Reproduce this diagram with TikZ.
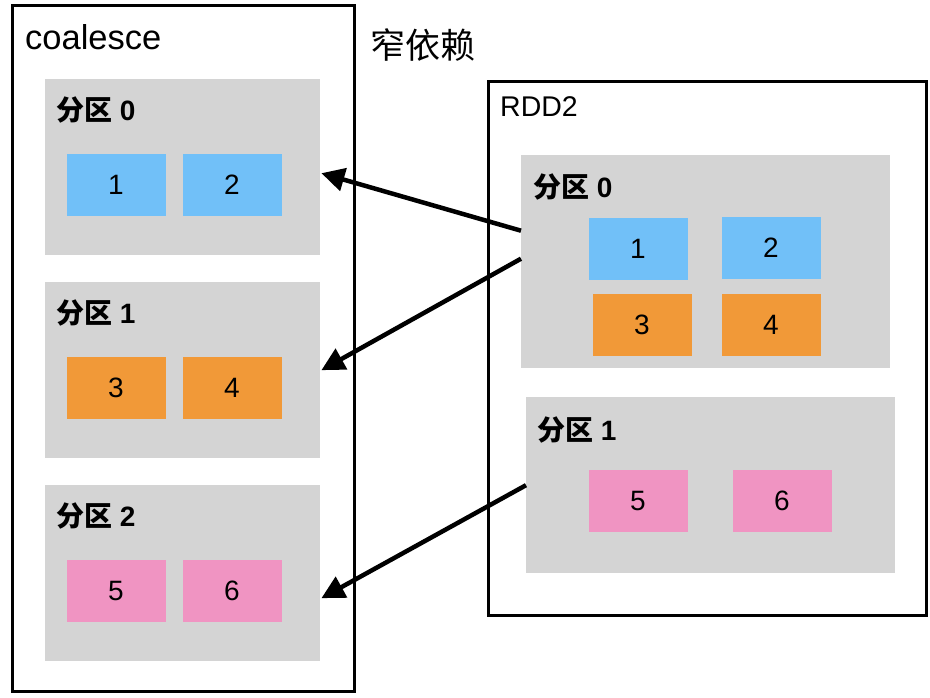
\documentclass[tikz,border=0pt]{standalone}
\usepackage{fontspec}
\setmainfont{Liberation Sans}
\newfontfamily\cjk{Noto Sans CJK SC}
\usepackage{tikz}
\usetikzlibrary{calc}
\usetikzlibrary{positioning}
\usetikzlibrary{arrows.meta}
\definecolor{partgray}{HTML}{D4D4D4}
\definecolor{cellblue}{HTML}{71C0F8}
\definecolor{cellorange}{HTML}{F19938}
\definecolor{cellpink}{HTML}{F094C2}
\tikzstyle{framenode} = [draw, line width=3pt, rectangle, anchor=north west, inner sep=0pt]
\tikzstyle{partnode} = [fill=partgray, rectangle, anchor=north west, inner sep=0pt]
\tikzstyle{cellnode} = [rectangle, inner sep=0pt, minimum width=99pt, minimum height=62pt, font=\fontsize{28}{34}\selectfont]
\tikzstyle{partlabel} = [anchor=west, inner sep=0pt, font=\bfseries\fontsize{28}{34}\selectfont]
\tikzstyle{titlenode} = [anchor=west, inner sep=0pt]
\tikzstyle{deparrow} = [line width=4.5pt, -{Triangle[length=23pt,width=23pt]}]
\newcommand{\fenqu}[1]{{\cjk 分区} #1}

\begin{document}
\begin{tikzpicture}[x=1pt, y=-1pt]
\useasboundingbox (0,0) rectangle (930,698);

\node[framenode, minimum width=342pt, minimum height=686pt] (coal) at (11,4) {};
\node[titlenode, font=\fontsize{34.5}{40}\selectfont] (coaltitle) at (25,37) {coalesce};
\node[font=\fontsize{35}{40}\selectfont\cjk, inner sep=0pt] (narrow) at (423,45) {窄依赖};
\node[framenode, minimum width=438pt, minimum height=534pt] (rdd) at (487,80) {};
\node[titlenode, font=\fontsize{28.5}{34}\selectfont] (rddtitle) at (500,107) {RDD2};

\foreach \i/\y/\a/\b/\c in {0/79/1/2/cellblue, 1/282/3/4/cellorange, 2/485/5/6/cellpink}{
    \node[partnode, minimum width=275pt, minimum height=176pt] (lp\i) at (45,\y) {};
    \node[partlabel] (lplabel\i) at ($(lp\i.north west)+(11,31)$) {\fenqu{\i}};
    \node[cellnode, fill=\c] (lc\a) at ($(lp\i.north west)+(71,106)$) {\a};
    \node[cellnode, fill=\c] (lc\b) at ($(lp\i.north west)+(187,106)$) {\b};
}

\node[partnode, minimum width=369pt, minimum height=213pt] (rp0) at (521,155) {};
\node[partlabel] (rplabel0) at ($(rp0.north west)+(12,32)$) {\fenqu{0}};
\node[cellnode, fill=cellblue] (rc1) at ($(rp0.north west)+(117,94)$) {1};
\node[cellnode, fill=cellblue] (rc2) at ($(rp0.north west)+(250,93)$) {2};
\node[cellnode, fill=cellorange] (rc3) at ($(rp0.north west)+(121,170)$) {3};
\node[cellnode, fill=cellorange] (rc4) at ($(rp0.north west)+(250,170)$) {4};

\node[partnode, minimum width=369pt, minimum height=176pt] (rp1) at (526,397) {};
\node[partlabel] (rplabel1) at ($(rp1.north west)+(11,33)$) {\fenqu{1}};
\node[cellnode, fill=cellpink] (rc5) at ($(rp1.north west)+(112,104)$) {5};
\node[cellnode, fill=cellpink] (rc6) at ($(rp1.north west)+(256,104)$) {6};

\coordinate (src0) at ($(rp0.west)+(0,-31)$);
\coordinate (src1) at ($(rp0.west)+(0,-3)$);
\coordinate (dst0) at ($(lp0.east)+(1,6)$);
\coordinate (dst1) at ($(lp1.east)+(1,0)$);
\coordinate (dst2) at ($(lp2.east)+(1,25)$);
\draw[deparrow] (src0) -- (dst0);
\draw[deparrow] (src1) -- (dst1);
\draw[deparrow] (rp1.west) -- (dst2);
\end{tikzpicture}
\end{document}
